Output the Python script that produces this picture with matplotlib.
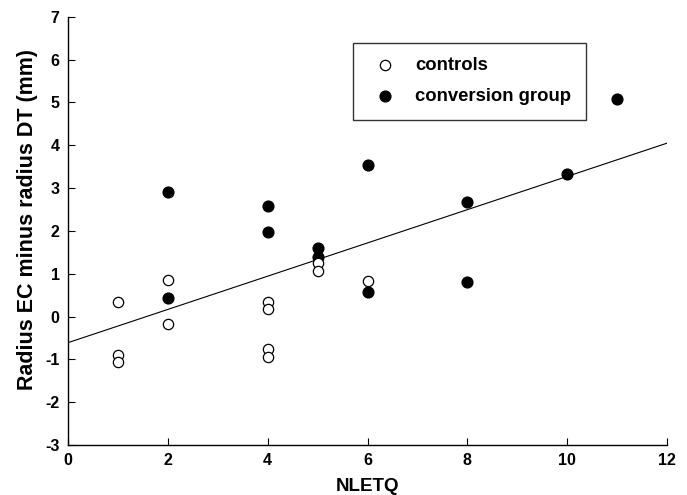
import matplotlib.pyplot as plt

# NLETQ vs radius difference
ctrl_x = [1, 1, 1, 2, 2, 4, 4, 4, 4, 5, 5, 6]
ctrl_y = [0.33, -0.9, -1.07, 0.85, -0.18, 0.33, 0.17, -0.75, -0.94, 1.24, 1.06, 0.84]

conv_x = [2, 2, 4, 4, 5, 5, 6, 6, 8, 8, 10, 11]
conv_y = [2.9, 0.43, 2.58, 1.97, 1.59, 1.38, 3.53, 0.57, 2.67, 0.81, 3.32, 5.08]

# regression line end points (x = 0 and x = 12)
fit_x = [0, 12]
fit_y = [-0.61, 4.05]

plt.rcParams['font.family'] = ['Liberation Sans', 'DejaVu Sans']
plt.rcParams['font.weight'] = 'bold'
plt.rcParams['axes.unicode_minus'] = False

fig = plt.figure(figsize=(6.87, 4.95), dpi=100)
ax = fig.add_axes([0.099, 0.101, 0.872, 0.865])

ax.plot(fit_x, fit_y, color='black', linewidth=0.8, zorder=1)
ax.scatter(ctrl_x, ctrl_y, s=55, facecolor='white', edgecolor='black', linewidth=0.9,
           label='controls', zorder=3)
ax.scatter(conv_x, conv_y, s=60, facecolor='black', edgecolor='black',
           label='conversion group', zorder=2)

ax.set_xlim(0, 12)
ax.set_ylim(-3, 7)
ax.set_xticks(range(0, 13, 2))
ax.set_yticks(range(-3, 8))

ax.spines['top'].set_visible(False)
ax.spines['right'].set_visible(False)
for s in ['left', 'bottom']:
    ax.spines[s].set_linewidth(1.0)
ax.tick_params(direction='in', length=5, width=0.8, labelsize=11.5, pad=6)
for lab in ax.get_xticklabels() + ax.get_yticklabels():
    lab.set_fontweight('bold')

ax.set_xlabel('NLETQ', fontsize=13.5, fontweight='bold', labelpad=7)
ax.set_ylabel('Radius EC minus radius DT (mm)', fontsize=15.5, fontweight='bold')
ax.yaxis.set_label_coords(-0.05, 0.526)

leg = ax.legend(loc='upper left', bbox_to_anchor=(0.476, 0.94), frameon=True, fancybox=False,
                edgecolor='black', fontsize=13.3, borderpad=0.8, labelspacing=0.75,
                handlelength=1.9, handletextpad=0.65, borderaxespad=0)
leg.get_frame().set_linewidth(1.0)
for t in leg.get_texts():
    t.set_fontweight('bold')

plt.savefig('out.png', dpi=100)
